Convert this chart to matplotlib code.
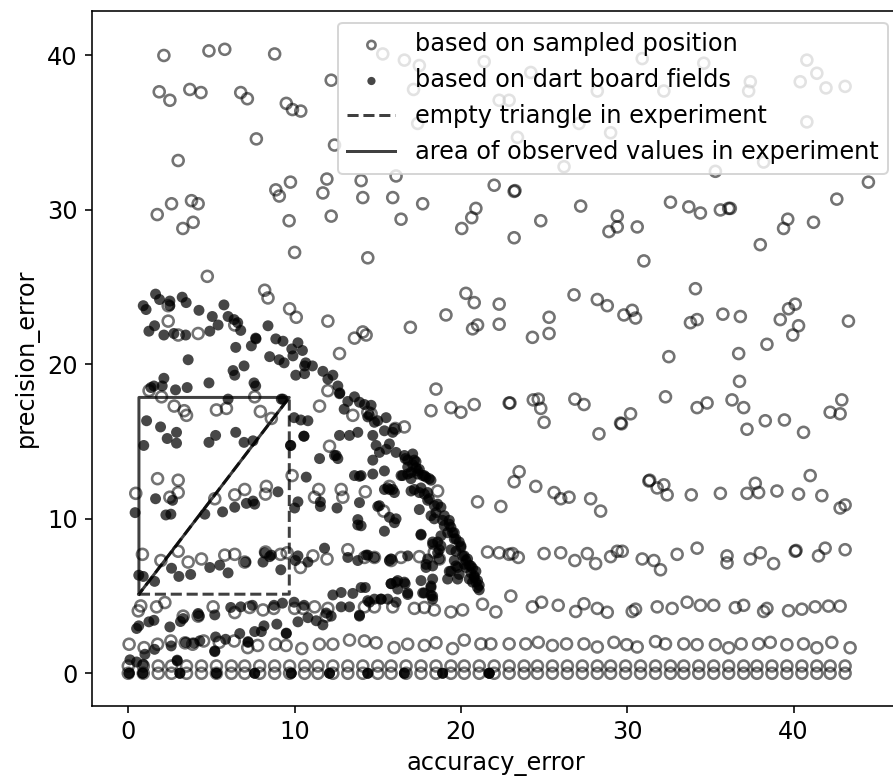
import matplotlib
matplotlib.use('Agg')
import matplotlib.pyplot as plt

# ── datos ─────────────────────────────────────────────────────────────────────

# filas regulares de "sampled position" (y = 0 y y ~ 0.47)
grid_x = [0.0, 0.9, 1.8, 2.6, 3.5, 4.4, 5.3, 6.2, 7.0, 7.9, 8.8, 9.7, 10.6, 11.4,
          12.3, 13.2, 14.1, 15.0, 15.8, 16.7, 17.6, 18.5, 19.4, 20.2, 21.1, 22.0,
          22.9, 23.8, 24.6, 25.5, 26.4, 27.3, 28.2, 29.0, 29.9, 30.8, 31.7, 32.6,
          33.4, 34.3, 35.2, 36.1, 37.0, 37.8, 38.7, 39.6, 40.5, 41.4, 42.2, 43.1]
grid_rows_y = [0.0, 0.47]

sampled_ring2 = [(0.05, 1.88), (0.95, 1.66), (1.76, 1.88), (2.56, 2.09), (3.42, 1.97),
                 (3.87, 1.88), (4.53, 2.09), (5.47, 2.0), (6.37, 2.09), (7.18, 1.66),
                 (7.78, 1.8), (8.84, 1.88), (9.49, 1.8), (10.43, 1.6), (11.49, 1.88),
                 (12.3, 1.88), (13.3, 2.15), (14.2, 2.09), (14.9, 1.97), (15.98, 1.66),
                 (16.8, 1.88), (17.8, 1.8), (18.5, 1.97), (19.5, 1.6), (20.2, 2.15),
                 (21.2, 1.9), (21.8, 1.9), (22.9, 1.9), (23.9, 1.9), (24.65, 2.0),
                 (25.5, 1.8), (26.35, 1.9), (27.4, 1.9), (28.2, 1.7), (29.2, 2.0),
                 (29.97, 1.85), (30.6, 1.7), (31.7, 2.05), (32.3, 1.9), (33.4, 1.9),
                 (34.2, 1.85), (35.3, 1.85), (36.1, 1.65), (36.85, 1.9), (37.9, 1.9),
                 (38.6, 2.0), (39.6, 1.85), (40.6, 1.9), (41.4, 1.65), (42.3, 2.0),
                 (43.4, 1.65)]

sampled_ring4 = [(0.75, 4.36), (0.6, 4.04), (1.7, 4.3), (2.2, 4.58), (3.3, 3.7),
                 (4.2, 3.7), (5.1, 4.3), (6.4, 3.93), (7.3, 4.26), (8.1, 4.1),
                 (8.75, 4.2), (10.0, 4.2), (10.5, 4.2), (11.2, 4.3), (11.9, 3.7),
                 (12.0, 4.2), (14.2, 4.3), (14.8, 4.3), (15.9, 4.3), (17.2, 4.2),
                 (17.8, 4.26), (18.4, 4.1), (19.4, 3.97), (20.1, 4.1), (21.3, 4.47),
                 (22.1, 3.97), (23.0, 5.0), (24.3, 4.3), (24.85, 4.6), (25.85, 4.4),
                 (26.9, 4.0), (27.4, 4.5), (28.2, 4.2), (28.8, 3.95), (30.3, 4.0),
                 (30.5, 4.15), (31.8, 4.3), (32.7, 4.2), (33.6, 4.6), (34.4, 4.4),
                 (35.2, 4.4), (36.5, 4.25), (37.0, 4.4), (38.2, 4.0), (38.4, 4.2),
                 (39.7, 4.05), (40.5, 4.15), (41.3, 4.3), (42.1, 4.35), (42.8, 4.35)]

sampled_ring8 = [(0.85, 7.7), (1.96, 7.3), (3.0, 7.9), (3.6, 7.2), (4.4, 7.4),
                 (5.8, 7.65), (6.4, 7.7), (7.0, 7.2), (8.25, 7.85), (9.15, 7.7),
                 (9.55, 7.8), (10.35, 6.85), (11.1, 7.6), (11.95, 7.4), (13.2, 8.0),
                 (14.2, 7.5), (14.8, 7.5), (15.8, 7.3), (16.4, 7.5), (17.5, 7.55),
                 (18.4, 7.85), (18.7, 7.4), (21.6, 7.85), (22.3, 7.8), (22.9, 7.7),
                 (23.1, 7.75), (23.45, 7.5), (25.0, 7.75), (26.0, 7.8), (26.85, 7.3),
                 (27.6, 7.75), (28.1, 7.1), (29.0, 7.55), (29.4, 7.9), (29.7, 7.9),
                 (30.9, 7.4), (31.6, 7.3), (32.0, 6.7), (33.0, 7.7), (34.2, 8.1),
                 (36.0, 7.6), (36.0, 7.15), (37.4, 7.4), (38.0, 7.8), (38.8, 7.1),
                 (40.1, 7.9), (40.15, 7.95), (41.5, 7.6), (41.9, 8.1), (43.1, 8.0)]

sampled_ring12 = [(0.45, 11.65), (1.76, 12.6), (2.5, 11.4), (3.0, 11.7), (3.0, 12.5),
                  (5.2, 11.3), (6.4, 11.55), (7.0, 11.9), (8.3, 12.1), (8.25, 11.6),
                  (9.85, 12.8), (11.45, 11.9), (11.2, 11.4), (12.8, 11.9), (12.9, 11.4),
                  (14.25, 11.75), (15.35, 10.5), (15.7, 12.1), (18.6, 11.8), (21.0, 11.1),
                  (22.4, 10.8), (23.5, 13.05), (23.2, 12.4), (24.5, 12.1), (25.6, 11.7),
                  (26.0, 11.3), (26.5, 11.4), (27.8, 11.3), (28.4, 10.5), (31.3, 12.45),
                  (31.35, 12.5), (31.8, 12.0), (32.2, 12.2), (32.4, 11.55), (33.85, 11.55),
                  (35.6, 11.65), (37.2, 11.65), (37.9, 11.7), (37.7, 12.3), (39.0, 11.8),
                  (40.3, 11.6), (41.7, 11.5), (41.0, 12.8), (42.8, 10.7), (43.1, 10.9),
                  (12.1, 14.7)]

sampled_ring17 = [(1.25, 18.3), (2.0, 17.9), (2.76, 17.3), (3.36, 17.0), (3.5, 16.7),
                  (5.3, 17.05), (5.9, 17.15), (7.6, 17.9), (7.94, 16.95), (8.6, 16.5),
                  (12.0, 18.3), (11.5, 17.3), (13.5, 16.7), (14.6, 16.8), (14.4, 16.9),
                  (16.05, 15.85), (16.6, 15.95), (18.5, 18.4), (18.2, 17.0), (19.4, 17.2),
                  (20.0, 16.9), (20.8, 17.4), (22.9, 17.5), (22.95, 17.5), (24.35, 17.7),
                  (24.65, 17.75), (24.8, 17.15), (25.0, 16.25), (26.85, 17.75), (27.4, 17.4),
                  (28.3, 15.5), (29.6, 16.2), (29.65, 16.15), (30.2, 16.8), (32.3, 17.9),
                  (34.2, 17.2), (34.8, 17.5), (36.3, 17.7), (37.0, 17.2), (37.2, 15.8),
                  (38.3, 16.35), (39.45, 16.4), (40.6, 15.6), (42.2, 16.9), (42.8, 16.8),
                  (42.9, 17.7), (36.75, 18.9)]

sampled_ring23 = [(2.4, 23.8), (2.4, 22.8), (3.0, 21.9), (4.2, 22.0), (6.4, 22.55),
                  (4.75, 25.7), (8.2, 24.8), (8.4, 24.3), (9.7, 23.6), (10.1, 23.05),
                  (12.0, 22.8), (12.7, 20.7), (13.6, 21.7), (14.1, 22.1), (14.3, 21.9),
                  (16.96, 22.4), (19.1, 23.2), (20.3, 24.6), (20.8, 24.0), (22.3, 23.9),
                  (20.7, 22.3), (21.0, 22.55), (22.3, 22.6), (24.3, 21.75), (25.3, 22.0),
                  (25.3, 23.05), (26.8, 24.5), (28.2, 24.2), (28.8, 23.8), (29.8, 23.2),
                  (30.3, 23.5), (30.5, 23.0), (32.5, 20.5), (33.8, 22.7), (34.2, 22.9),
                  (34.1, 24.9), (35.75, 23.25), (36.8, 23.1), (36.7, 20.7), (38.4, 21.3),
                  (39.2, 22.9), (39.7, 23.6), (40.1, 23.9), (40.3, 22.5), (39.95, 21.9),
                  (43.3, 22.8)]

sampled_ring30 = [(3.0, 33.2), (1.74, 29.7), (2.6, 30.4), (3.8, 30.6), (4.2, 30.4),
                  (3.28, 28.8), (3.9, 29.2), (8.87, 31.3), (9.08, 30.9), (9.75, 31.8),
                  (9.67, 29.3), (11.7, 31.1), (11.94, 32.0), (12.2, 29.6), (14.0, 31.9),
                  (14.1, 30.8), (7.7, 34.6), (12.4, 34.2), (10.0, 27.25), (16.1, 32.2),
                  (15.9, 30.8), (17.7, 30.4), (16.4, 29.4), (22.0, 31.6), (23.2, 31.2),
                  (23.25, 31.25), (20.9, 30.1), (20.65, 29.5), (20.05, 28.8), (23.2, 28.2),
                  (24.8, 29.3), (27.2, 30.25), (29.4, 29.6), (29.4, 28.9), (28.9, 28.6),
                  (14.4, 26.9), (32.6, 30.5), (33.7, 30.2), (34.4, 29.8), (35.6, 30.0),
                  (36.1, 30.1), (36.2, 30.1), (30.6, 28.9), (31.0, 26.7), (39.65, 29.4),
                  (39.4, 28.8), (41.2, 29.2), (42.6, 30.7), (44.5, 31.8), (38.0, 27.75),
                  (17.4, 35.6), (29.0, 35.0), (40.8, 35.7), (38.2, 33.1), (35.3, 32.5),
                  (26.2, 32.8), (23.4, 34.7), (27.1, 35.6)]

sampled_ring38 = [(2.14, 40.0), (4.85, 40.3), (5.8, 40.4), (8.8, 40.1), (12.2, 38.4),
                  (1.86, 37.65), (2.5, 37.1), (3.7, 37.8), (4.37, 37.6), (6.76, 37.6),
                  (7.16, 37.2), (9.5, 36.9), (9.87, 36.5), (10.37, 36.4), (15.3, 40.1),
                  (16.6, 39.7), (17.5, 39.35), (21.4, 39.6), (17.15, 37.8), (22.3, 37.1),
                  (22.9, 37.1), (24.2, 38.9), (30.9, 39.8), (34.6, 39.5), (40.8, 39.7),
                  (41.4, 38.85), (40.4, 38.3), (41.95, 37.9), (43.1, 38.0), (37.4, 38.3),
                  (37.3, 37.7), (32.2, 37.7), (28.2, 37.7)]

# "dart board fields"
dart_upper = [(0.9, 23.8), (1.07, 23.55), (1.64, 24.55), (1.88, 24.2), (2.5, 24.1),
              (2.5, 23.8), (3.24, 24.35), (3.48, 24.0), (4.25, 23.5), (5.05, 23.1),
              (5.75, 23.85), (6.0, 23.1), (6.36, 22.9), (6.76, 22.2), (5.4, 22.55),
              (4.9, 22.15), (8.4, 22.5), (7.66, 21.7), (7.4, 21.2), (6.46, 21.1),
              (8.87, 21.65), (9.3, 21.5), (10.2, 21.4), (9.83, 21.0), (10.47, 20.9),
              (9.9, 20.55), (10.67, 20.1), (11.07, 19.9), (10.6, 19.9), (10.07, 19.3),
              (10.6, 19.4), (8.5, 20.5), (9.07, 20.3), (9.37, 20.1), (6.96, 19.9),
              (6.3, 19.6), (6.4, 19.3), (3.6, 20.3), (1.24, 22.15), (1.58, 22.5),
              (2.14, 21.9), (2.74, 22.0), (3.45, 21.9), (2.14, 19.1), (1.54, 18.6),
              (2.04, 18.6), (2.84, 18.35), (3.54, 18.5), (4.85, 18.8), (6.0, 17.75),
              (7.66, 18.6), (7.56, 18.8), (9.2, 17.75), (7.68, 21.65), (6.58, 22.7),
              (1.36, 18.5)]

dart_band = [(11.7, 19.55), (12.0, 19.05), (12.3, 19.3), (12.6, 18.6), (12.7, 18.1),
             (12.72, 18.15), (12.98, 17.1), (13.2, 17.6), (13.6, 17.9), (13.9, 17.55),
             (14.2, 17.4), (14.6, 17.35), (14.5, 16.7), (14.8, 16.25), (15.0, 16.35),
             (15.5, 16.55), (15.4, 15.7), (15.9, 15.6), (14.4, 16.6), (16.0, 15.85),
             (14.9, 14.75), (15.1, 14.3), (15.7, 14.85), (16.1, 14.3), (15.5, 14.5),
             (14.7, 13.8), (14.7, 12.9), (15.4, 13.1), (14.0, 12.8), (16.65, 13.9),
             (17.1, 14.2), (17.3, 13.7), (16.8, 13.35), (16.5, 12.8), (17.0, 13.0),
             (17.4, 13.1), (17.8, 12.8), (18.2, 12.5), (17.2, 13.8), (16.6, 14.1),
             (16.8, 13.8), (17.5, 13.2), (17.7, 12.8), (17.9, 12.7), (18.1, 12.6),
             (17.4, 12.9), (16.8, 12.9), (16.4, 12.8), (17.0, 12.6), (17.1, 13.5),
             (17.3, 13.3), (17.0, 11.8), (17.6, 12.0), (18.0, 11.7), (17.2, 11.9),
             (17.5, 11.7), (17.8, 11.6), (18.1, 11.3), (18.0, 11.2), (18.4, 10.85),
             (18.8, 10.75), (18.6, 10.95), (18.5, 10.4), (19.0, 10.2), (18.2, 10.2),
             (18.4, 10.0), (18.9, 9.9), (19.0, 9.55), (19.3, 9.9), (19.4, 9.45),
             (19.6, 9.1), (19.2, 9.1), (18.8, 8.9), (19.3, 9.65), (19.5, 9.1),
             (19.7, 8.7), (20.0, 8.25), (19.6, 8.7), (19.9, 8.5), (20.0, 8.15),
             (19.7, 7.9), (19.4, 8.0), (20.1, 7.6), (20.2, 7.6), (20.4, 7.4),
             (20.2, 7.05), (20.3, 6.85), (20.6, 6.95), (20.6, 6.5), (20.8, 6.2),
             (20.8, 6.3), (20.9, 5.9), (21.0, 5.55), (20.7, 5.9), (20.5, 6.1),
             (19.9, 6.4), (19.7, 6.95), (19.6, 7.3), (19.3, 6.6), (19.2, 6.1),
             (19.8, 6.1), (19.8, 6.85), (19.4, 6.6), (21.1, 5.7), (21.0, 6.0),
             (20.9, 6.6), (20.7, 6.8), (21.1, 5.4), (20.5, 7.0), (20.3, 7.3),
             (18.3, 8.35), (18.6, 8.5), (18.7, 8.0), (18.3, 8.5), (18.8, 8.25),
             (18.6, 7.8), (17.6, 9.0), (17.6, 8.95), (17.5, 10.6), (17.9, 7.05),
             (18.3, 6.95), (18.0, 7.4), (18.7, 7.4), (18.3, 6.1), (17.6, 6.0),
             (18.2, 5.55), (17.8, 5.2), (18.3, 5.0), (18.3, 4.8), (16.8, 5.2),
             (16.6, 5.9), (16.1, 5.9), (15.8, 5.8), (16.2, 5.45), (15.6, 4.8),
             (15.2, 4.8), (14.8, 4.8), (14.4, 4.7), (14.0, 5.55), (17.9, 6.85),
             (18.2, 5.05), (17.7, 5.2), (16.8, 5.1), (16.1, 4.6), (14.5, 4.6),
             (16.2, 6.0), (16.65, 5.8), (18.2, 5.65)]

dart_middle = [(15.4, 11.9), (15.7, 11.9), (16.0, 11.7), (15.6, 12.0), (15.9, 11.9),
               (15.0, 10.8), (15.1, 10.85), (15.7, 10.1), (16.1, 10.0), (16.0, 9.75),
               (15.4, 9.2), (13.8, 9.95), (13.8, 9.6), (14.0, 9.55), (13.9, 11.05),
               (13.6, 12.8), (13.9, 12.75), (12.5, 14.1), (12.6, 13.9), (11.5, 13.9),
               (12.4, 14.1), (10.7, 12.7), (10.2, 11.1), (10.0, 10.7), (11.55, 11.1),
               (11.55, 10.8), (12.55, 10.7), (9.75, 14.75), (9.77, 14.75), (10.55, 15.35),
               (10.57, 15.35), (12.7, 15.4), (13.3, 15.4), (13.8, 15.6), (14.7, 15.4),
               (9.97, 16.55), (10.37, 16.4), (10.8, 16.35), (11.8, 8.1), (13.2, 7.5),
               (13.8, 7.3), (14.4, 7.65), (14.8, 7.5), (15.7, 7.3), (14.3, 7.65),
               (15.8, 7.4), (16.8, 7.6), (10.05, 7.3), (10.8, 7.2), (10.2, 7.6)]

dart_box = [(1.1, 16.35), (1.94, 15.95), (2.34, 15.2), (2.9, 15.6), (2.9, 14.9),
            (0.93, 14.75), (4.85, 14.95), (5.25, 15.4), (6.46, 15.6), (6.96, 14.95),
            (7.5, 15.05), (1.64, 11.3), (2.66, 11.2), (2.26, 10.25), (2.56, 10.3),
            (0.41, 10.4), (4.6, 10.3), (5.67, 10.45), (6.4, 10.75), (7.1, 11.0),
            (7.6, 10.95), (7.5, 11.15), (9.0, 11.75), (9.3, 17.75), (0.63, 6.35),
            (0.9, 6.27), (1.58, 5.95), (2.6, 6.8), (3.04, 6.27), (3.75, 6.4),
            (4.9, 6.85), (5.5, 7.0), (6.0, 6.5), (7.06, 7.2), (8.1, 7.2),
            (8.5, 7.55), (9.17, 6.7), (8.2, 7.8), (8.6, 7.65)]

dart_low = [(6.16, 4.26), (6.76, 4.3), (7.46, 4.4), (8.76, 4.4), (9.27, 4.54),
            (9.97, 4.6), (10.57, 4.4), (10.2, 3.33), (10.8, 3.6), (11.3, 3.4),
            (11.7, 3.13), (11.9, 3.9), (12.2, 3.7), (12.3, 5.07), (12.8, 5.23),
            (13.5, 5.17), (14.25, 5.55), (12.8, 4.3), (13.3, 4.3), (13.9, 3.76),
            (13.9, 3.7), (15.2, 4.8), (15.8, 5.8), (0.5, 2.9), (0.63, 3.07),
            (1.24, 3.33), (1.54, 3.43), (2.5, 3.0), (3.14, 3.35), (3.3, 3.54),
            (4.2, 3.87), (4.25, 3.7), (5.2, 3.78), (7.6, 2.7), (8.16, 3.07),
            (8.0, 2.7), (8.93, 3.18), (9.5, 2.57), (9.5, 2.6), (6.7, 2.57),
            (5.25, 2.35), (5.2, 1.4), (5.2, 1.45), (5.85, 2.2), (3.45, 2.0),
            (3.94, 1.95), (4.3, 2.1), (2.58, 1.77), (1.58, 1.55), (1.0, 1.23),
            (7.2, 2.0), (7.2, 2.05), (0.1, 0.87), (0.5, 0.73), (0.9, 0.58),
            (2.94, 0.8), (2.94, 0.85)]

# campos sobre y = 0 (puntos apilados, por eso salen casi negros)
dart_zero_x = [0.05, 0.05, 0.87, 0.87, 3.1, 3.1, 5.3, 5.3, 7.6, 7.6, 9.8, 9.8,
               12.1, 12.1, 14.4, 14.4, 16.6, 16.6, 18.9, 18.9, 21.7, 21.7, 21.7]

# esquinas del rectangulo del experimento
exp_x = [0.64, 9.68]
exp_y = [5.12, 17.86]


# ── helpers ───────────────────────────────────────────────────────────────────

def _unzip(groups):
    xs, ys = [], []
    for g in groups:
        for x, y in g:
            xs.append(x)
            ys.append(y)
    return xs, ys


# ── figura ────────────────────────────────────────────────────────────────────

DPI = 144
fig = plt.figure(figsize=(893 / DPI, 783 / DPI), dpi=DPI)
# el eje derecho queda fuera del lienzo (como en la imagen original, recortada)
ax = fig.add_axes([91.7 / 893, 77.3 / 783, (900 - 91.7) / 893, (705.7 - 10.7) / 783])

sx, sy = _unzip([sampled_ring2, sampled_ring4, sampled_ring8, sampled_ring12,
                 sampled_ring17, sampled_ring23, sampled_ring30, sampled_ring38])
for row_y in grid_rows_y:
    sx = sx + grid_x
    sy = sy + [row_y] * len(grid_x)

dx, dy = _unzip([dart_upper, dart_band, dart_middle, dart_box, dart_low])
dx = dx + dart_zero_x
dy = dy + [0.0] * len(dart_zero_x)

ax.scatter(sx, sy, s=30, facecolors='none', edgecolors='k', linewidths=1.3,
           alpha=0.55, label='based on sampled position')
ax.scatter(dx, dy, s=30, c='k', edgecolors='none', alpha=0.72,
           label='based on dart board fields')

x0, x1 = exp_x
y0, y1 = exp_y
ax.plot([x0, x1, x1, x0], [y0, y0, y1, y0], '--', color='k', alpha=0.75,
        label='empty triangle in experiment')
ax.plot([x0, x0, x1, x0], [y0, y1, y1, y0], '-', color='k', alpha=0.75,
        label='area of observed values in experiment')

ax.set_xlim(-2.2, 46.4)
ax.set_ylim(-2.1, 42.9)
ax.set_xticks([0, 10, 20, 30, 40])
ax.set_yticks([0, 10, 20, 30, 40])
ax.tick_params(labelsize=12)
ax.set_xlabel('accuracy_error', fontsize=12)
ax.set_ylabel('precision_error', fontsize=12)
ax.legend(loc='upper right', fontsize=12, markerscale=0.75)

fig.savefig('out.png', dpi=DPI)
